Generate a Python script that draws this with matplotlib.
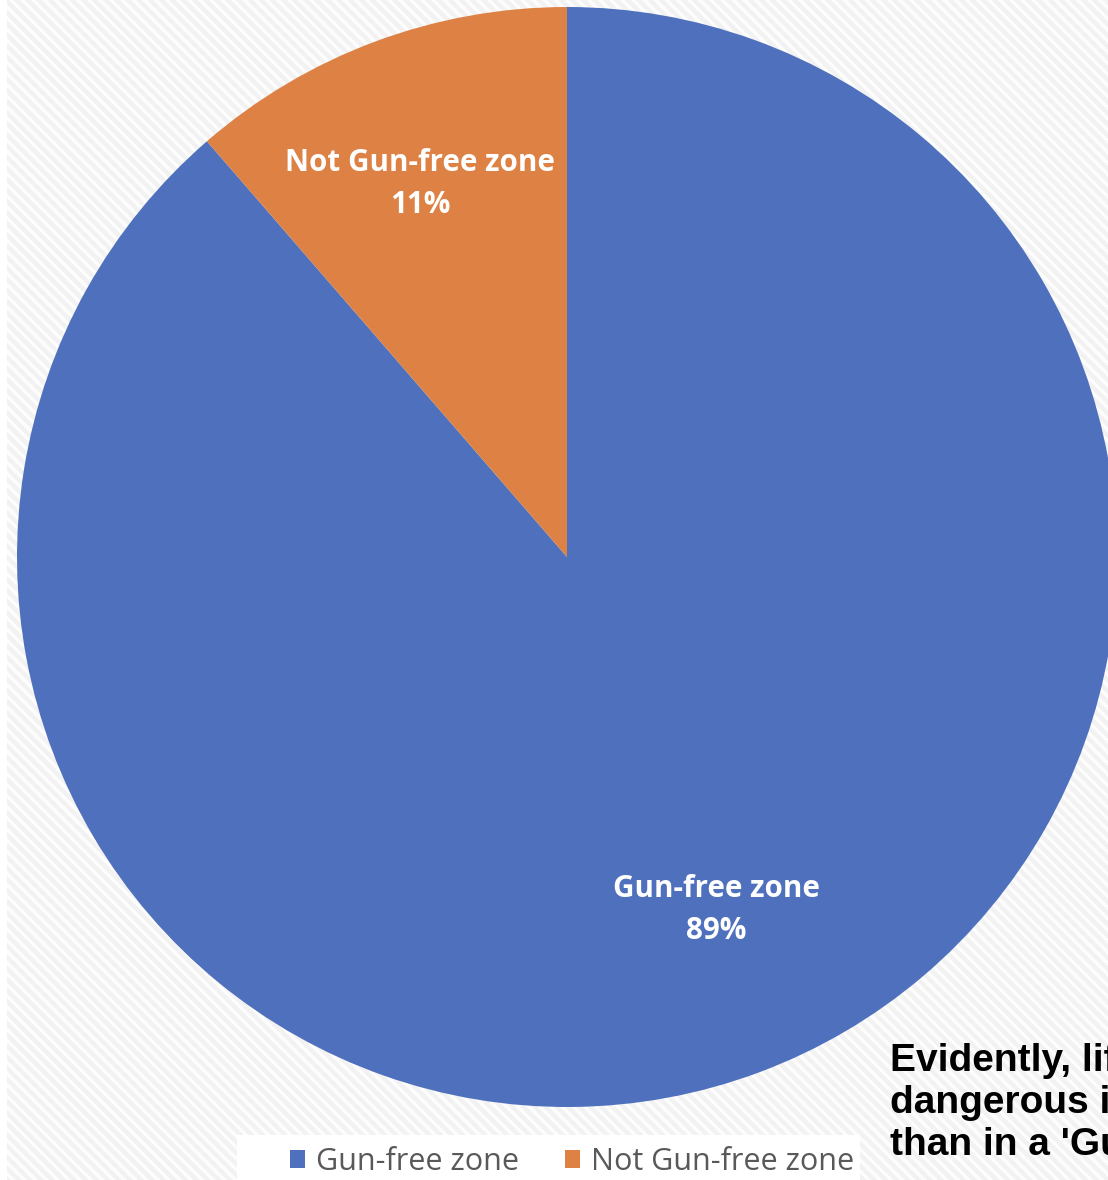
import matplotlib.pyplot as plt
from matplotlib.patches import Rectangle, Patch

# data
zones = ["Gun-free zone", "Not Gun-free zone"]
shares = [88.64, 11.36]
pct_labels = ["89%", "11%"]
colors = ["#4F71BD", "#DD8244"]
note = "Evidently, life is more\ndangerous in a 'Gun-free zone'\nthan in a 'Gun zone'"

plt.rcParams["hatch.linewidth"] = 2.5

W, H = 1108, 1180
fig = plt.figure(figsize=(W / 100, H / 100), dpi=100)
fig.patch.set_facecolor("#f2f2f2")

# striped background
fig.patches.append(Rectangle((0, 0), 1, 1, transform=fig.transFigure,
                             facecolor="#f2f2f2", edgecolor="#fdfdfd",
                             hatch="\\\\\\", linewidth=0, zorder=-3))
fig.patches.append(Rectangle((0, 0), 7 / W, 1, transform=fig.transFigure,
                             facecolor="white", linewidth=0, zorder=-2))

# pie: centre (567, 557) px, radius 550 px
cx, cy, r = 567, 557, 550
ax = fig.add_axes([(cx - r) / W, (H - cy - r) / H, 2 * r / W, 2 * r / H])
wedges, texts, autotexts = ax.pie(
    shares, colors=colors, startangle=90, counterclock=False,
    autopct="%1.0f%%", pctdistance=0.715,
    wedgeprops=dict(linewidth=0))
label_pos = [(0.271, -0.642), (-0.267, 0.678)]
for t, name, pct, pos in zip(autotexts, zones, pct_labels, label_pos):
    t.set_text(name + "\n" + pct)
    t.set_position(pos)
    t.set_color("white")
    t.set_fontsize(21.3)
    t.set_fontweight("bold")
    t.set_fontfamily("Open Sans")
    t.set_linespacing(1.52)
ax.set_xlim(-1, 1)
ax.set_ylim(-1, 1)

# legend strip
fig.patches.append(Rectangle((237 / W, 0), (860 - 237) / W, 45 / H,
                             transform=fig.transFigure, facecolor="white",
                             linewidth=0, zorder=-1))
handles = [Patch(facecolor=c, edgecolor="none") for c in colors]
fig.legend(handles, zones, loc="center", bbox_to_anchor=(572 / W, 18 / H),
           ncol=2, frameon=False, prop={"family": "Open Sans", "size": 22},
           labelcolor="#595959", handlelength=0.5, handleheight=0.5,
           handletextpad=0.35, columnspacing=1.5)

fig.text(890 / W, (H - 1043) / H, note, ha="left", va="top",
         fontsize=28, fontweight="bold", family="Liberation Sans",
         linespacing=1.22, color="black")

fig.savefig("out.png", dpi=100)
